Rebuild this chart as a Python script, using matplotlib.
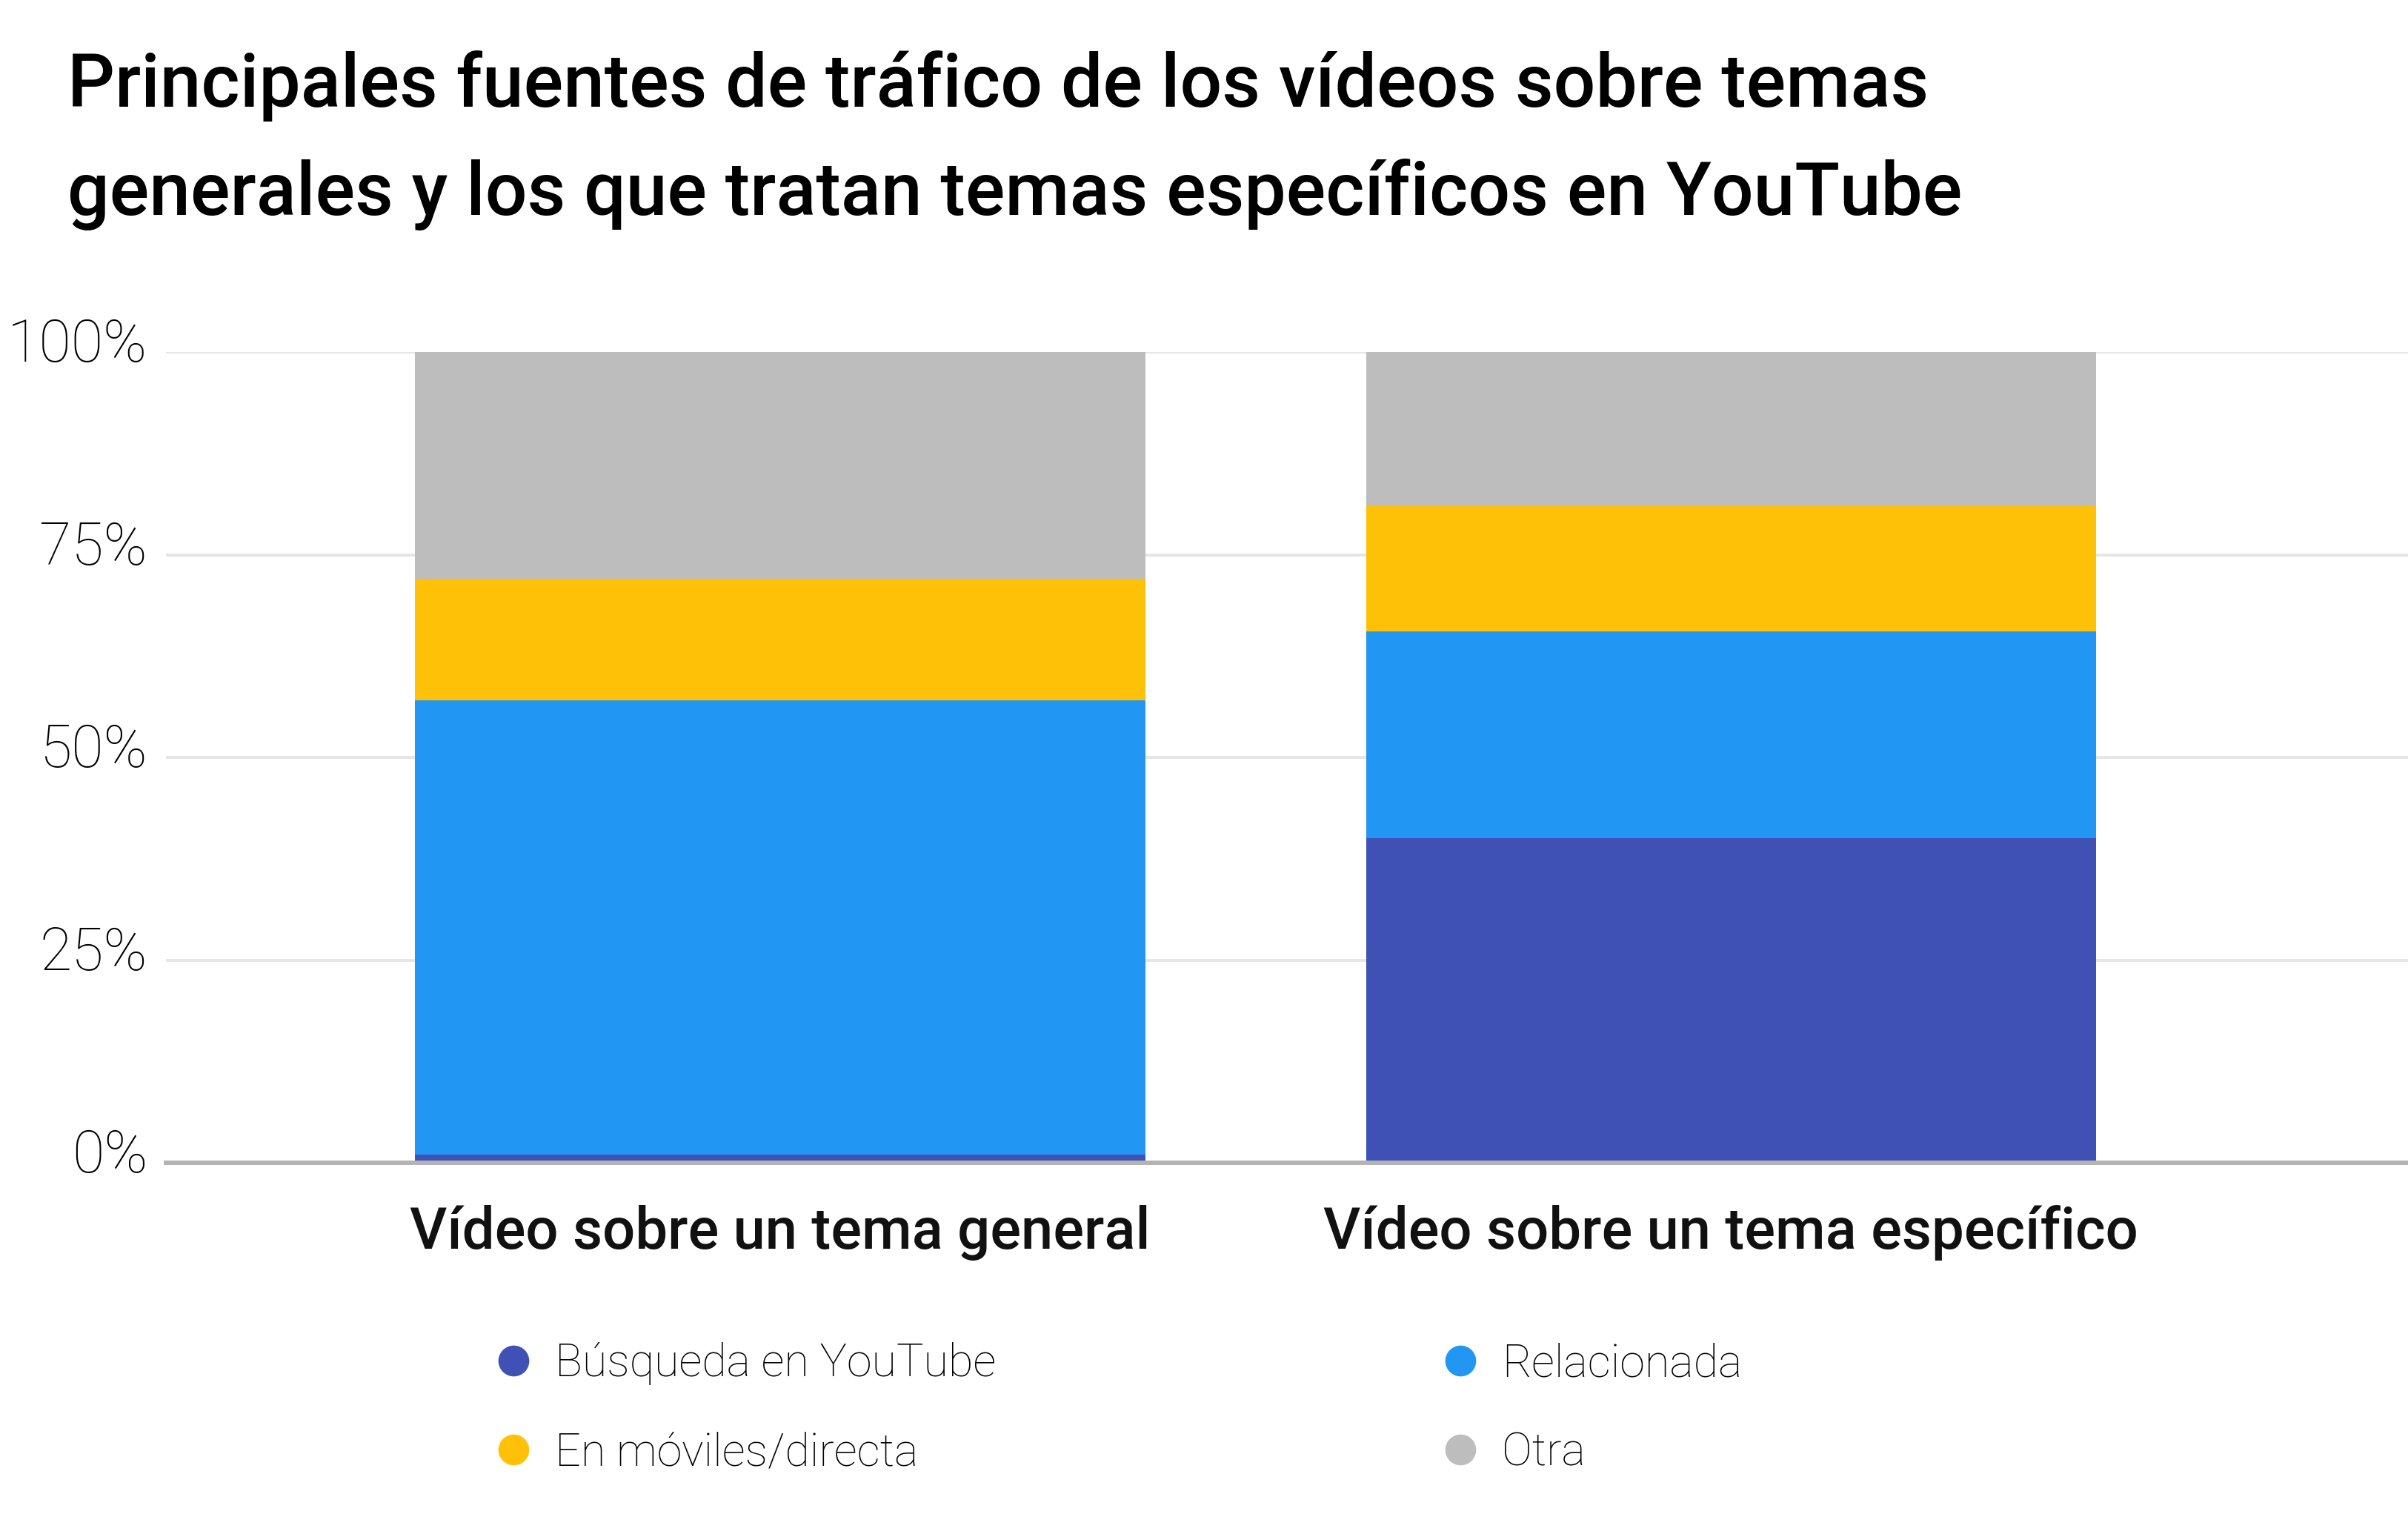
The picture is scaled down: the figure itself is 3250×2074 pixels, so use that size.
import matplotlib.pyplot as plt
import matplotlib.transforms as mtransforms
from matplotlib.lines import Line2D
import numpy as np

plt.rcParams['font.family'] = ['Roboto', 'DejaVu Sans']

categories = ["Vídeo sobre un tema general", "Vídeo sobre un tema específico"]
series_names = ["Búsqueda en YouTube", "Relacionada", "En móviles/directa", "Otra"]
busqueda = [1, 40]
relacionada = [56, 25.5]
moviles = [15, 15.5]
otra = [28, 19]
colors = ["#3F51B5", "#2196F3", "#FFC107", "#BDBDBD"]
y_ticks = [0, 25, 50, 75, 100]
y_tick_labels = ["0%", "25%", "50%", "75%", "100%"]

W, H = 3250, 2074
fig = plt.figure(figsize=(W / 100, H / 100), dpi=100)
ax = fig.add_axes([224 / W, 1 - 1569 / H, 1 - 224 / W, (1569 - 475) / H])

x = np.arange(len(categories))
bottom = np.zeros(len(categories))
for vals, c in zip([busqueda, relacionada, moviles, otra], colors):
    ax.bar(x, vals, bottom=bottom, width=0.768, color=c, zorder=3)
    bottom += np.array(vals)

ax.set_xlim(-0.646, 1.712)
ax.set_ylim(0, 100)
ax.set_yticks(y_ticks)
ax.set_yticklabels(y_tick_labels, fontsize=57, fontweight='light', color='black')
ax.set_xticks(x)
ax.set_xticklabels(categories, fontsize=56, fontweight='medium', color='#111111')
ax.tick_params(axis='y', length=0, pad=18)
ax.tick_params(axis='x', length=0, pad=41)
# y labels sit a bit above their gridline
shift = mtransforms.ScaledTranslation(0, 12 / 72, fig.dpi_scale_trans)
for lab in ax.get_yticklabels():
    lab.set_transform(lab.get_transform() + shift)
ax.yaxis.grid(True, color='#e6e6e6', linewidth=2.9, zorder=0)
ax.set_axisbelow(True)
for s in ['top', 'right', 'left']:
    ax.spines[s].set_visible(False)
ax.spines['bottom'].set_color('#b3b3b3')
ax.spines['bottom'].set_linewidth(4.3)
ax.spines['bottom'].set_zorder(4)

# title
fig.text(91 / W, 1 - 144 / H, "Principales fuentes de tráfico de los vídeos sobre temas",
         fontsize=72, fontweight='medium', va='baseline', ha='left')
fig.text(91 / W, 1 - 290 / H, "generales y los que tratan temas específicos en YouTube",
         fontsize=72, fontweight='medium', va='baseline', ha='left')

# legend, column-major order
order = [0, 2, 1, 3]
handles = [Line2D([], [], marker='o', linestyle='none', markersize=30,
                  markerfacecolor=colors[i], markeredgecolor='none') for i in order]
labels = [series_names[i] for i in order]
fig.legend(handles, labels, ncol=2, loc='upper left',
           bbox_to_anchor=(662 / W, 1 - 1811 / H), frameon=False,
           prop={'family': 'Roboto', 'weight': 'light', 'size': 44},
           handlelength=1.0, handletextpad=0.42, columnspacing=9.76,
           labelspacing=1.02, borderpad=0, borderaxespad=0)

fig.savefig("out.png", dpi=100)
